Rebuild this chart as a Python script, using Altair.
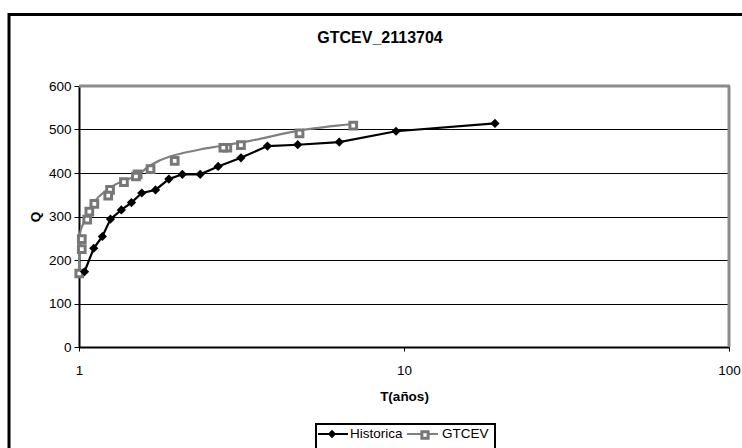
import altair as alt
import pandas as pd

# Historica series (T in years, Q)
hist_T = [19.05, 9.45, 6.32, 4.71, 3.80, 3.15, 2.68, 2.36, 2.08, 1.89, 1.72, 1.56, 1.45, 1.35, 1.25, 1.18, 1.11, 1.04]
hist_Q = [514, 496, 471, 465, 462, 435, 415, 397, 397, 386, 361, 354, 332, 315, 294, 254, 227, 173]

# GTCEV markers
gtcev_T = [6.98, 4.77, 3.15, 2.86, 2.78, 1.97, 1.66, 1.515, 1.497, 1.375, 1.246, 1.23, 1.115, 1.076, 1.06, 1.02, 1.02, 1.002]
gtcev_Q = [509, 491, 464, 458, 458, 428, 409, 397, 392, 379, 361, 348, 329, 311, 293, 248, 225, 169]

# GTCEV fitted curve
curve_T = [1.0, 1.004, 1.043, 1.107, 1.246, 1.54, 1.645, 2.36, 2.72, 3.36, 4.79, 7.02]
curve_Q = [169, 257, 292, 330, 366, 399, 416, 454, 462, 474, 498, 513]

x_ticks = [1, 10, 100]
y_ticks = [0, 100, 200, 300, 400, 500, 600]

title_text = "GTCEV_2113704"
x_title = "T(años)"
y_title = "Q"
legend_labels = ["Historica", "GTCEV"]

FONT = "Liberation Sans"
W, H = 650, 261
GRAY = "#808080"

hist_df = pd.DataFrame({"T": hist_T, "Q": hist_Q})
gt_df = pd.DataFrame({"T": gtcev_T, "Q": gtcev_Q})
curve_df = pd.DataFrame({"T": curve_T, "Q": curve_Q})
one = pd.DataFrame({"a": [0]})

xscale = alt.Scale(type="log", domain=[1, 100], nice=False)
yscale = alt.Scale(domain=[0, 600], nice=False, zero=True)

xaxis = alt.Axis(values=x_ticks, format=".0f", grid=False, domainColor="black", domainWidth=2,
                 tickColor="black", tickSize=4, labelPadding=12, labelFlush=False,
                 labelFont=FONT, labelFontSize=13.5,
                 labelColor="black", title=x_title, titleFont=FONT, titleFontSize=13.5,
                 titleFontWeight="bold", titleColor="black", titleX=W / 2, titleY=49,
                 titleBaseline="middle", titleAlign="center")
yaxis = alt.Axis(values=y_ticks, grid=True, gridColor="black", gridWidth=1, domainColor="black",
                 domainWidth=2, tickColor="black", tickSize=5, labelPadding=3, labelFont=FONT,
                 labelFontSize=13.5, labelColor="black", title=y_title, titleFont=FONT,
                 titleFontSize=13.5, titleFontWeight="bold", titleColor="black", titleX=-44,
                 titleY=H / 2, titleAngle=270, titleBaseline="middle", titleAlign="center")

base_x = alt.X("T:Q", scale=xscale, axis=xaxis)
base_y = alt.Y("Q:Q", scale=yscale, axis=yaxis)

frame = alt.Chart(one).mark_rect(filled=False, stroke="black", strokeWidth=3).encode(
    x=alt.value(-70), x2=alt.value(700), y=alt.value(-71.5), y2=alt.value(420))

curve = alt.Chart(curve_df).mark_line(color=GRAY, strokeWidth=2.2, interpolate="monotone").encode(
    x=base_x, y=base_y)
gt_pts = alt.Chart(gt_df).mark_point(shape="square", filled=True, fill="white", stroke="#777777",
                                     strokeWidth=3, size=45, opacity=1).encode(
    x=alt.X("T:Q", scale=xscale), y=alt.Y("Q:Q", scale=yscale))
hist_line = alt.Chart(hist_df).mark_line(color="black", strokeWidth=2.2).encode(
    x=alt.X("T:Q", scale=xscale), y=alt.Y("Q:Q", scale=yscale))
hist_pts = alt.Chart(hist_df).mark_point(shape="diamond", filled=True, color="black", size=85,
                                         opacity=1).encode(
    x=alt.X("T:Q", scale=xscale), y=alt.Y("Q:Q", scale=yscale))

top_border = alt.Chart(one).mark_rule(color="#8c8c8c", strokeWidth=3).encode(
    x=alt.value(0), x2=alt.value(W + 1), y=alt.value(0))
right_border = alt.Chart(one).mark_rule(color="#8c8c8c", strokeWidth=3).encode(
    x=alt.value(W), y=alt.value(0), y2=alt.value(H))

title = alt.Chart(one).mark_text(font=FONT, fontSize=16, fontWeight="bold", color="black",
                                 align="center", baseline="middle").encode(
    x=alt.value(301), y=alt.value(-48), text=alt.value(title_text))

# legend
LY = 348
leg_box = alt.Chart(one).mark_rect(filled=False, stroke="black", strokeWidth=2).encode(
    x=alt.value(237), x2=alt.value(416), y=alt.value(338), y2=alt.value(380))
leg_l1 = alt.Chart(one).mark_rule(color="black", strokeWidth=2).encode(
    x=alt.value(239), x2=alt.value(269), y=alt.value(LY))
leg_p1 = alt.Chart(one).mark_point(shape="diamond", filled=True, color="black", size=70,
                                   opacity=1).encode(x=alt.value(253), y=alt.value(LY))
leg_t1 = alt.Chart(one).mark_text(font=FONT, fontSize=13.5, color="black", align="left",
                                  baseline="middle").encode(
    x=alt.value(271), y=alt.value(LY), text=alt.value(legend_labels[0]))
leg_l2 = alt.Chart(one).mark_rule(color=GRAY, strokeWidth=2).encode(
    x=alt.value(328), x2=alt.value(359), y=alt.value(LY))
leg_p2 = alt.Chart(one).mark_point(shape="square", filled=True, fill="white", stroke="#777777",
                                   strokeWidth=3, size=40, opacity=1).encode(
    x=alt.value(346), y=alt.value(LY + 1))
leg_t2 = alt.Chart(one).mark_text(font=FONT, fontSize=13.5, color="black", align="left",
                                  baseline="middle").encode(
    x=alt.value(363), y=alt.value(LY), text=alt.value(legend_labels[1]))

chart = alt.layer(
    frame, curve, gt_pts, hist_line, hist_pts, top_border, right_border, title,
    leg_box, leg_l1, leg_p1, leg_t1, leg_l2, leg_p2, leg_t2
).properties(
    width=W, height=H,
    autosize=alt.AutoSizeParams(type="none"),
    padding={"left": 79, "top": 86, "right": 13, "bottom": 101},
    background="white",
).configure_view(stroke=None)

chart.save("out.html", embed_options={"renderer": "svg", "actions": False})
